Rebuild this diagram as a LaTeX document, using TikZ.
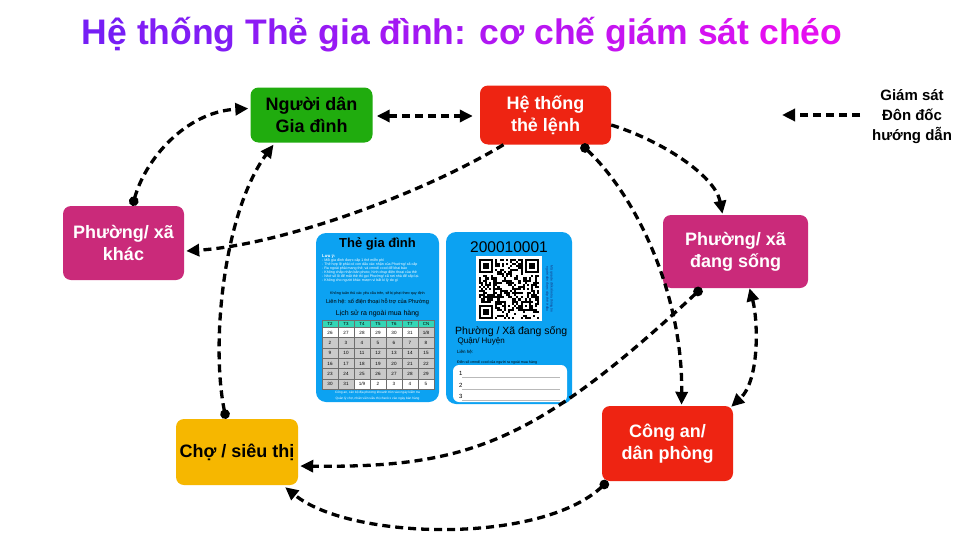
\documentclass[tikz,border=0pt]{standalone}
\usepackage{fontspec}
\setmainfont{Liberation Sans}
\usetikzlibrary{arrows.meta,calc}

% palette
\definecolor{titleA}{RGB}{118,30,245}
\definecolor{titleB}{RGB}{228,16,240}
\definecolor{boxgreen}{RGB}{32,172,14}
\definecolor{boxred}{RGB}{238,36,18}
\definecolor{boxmagenta}{RGB}{202,42,122}
\definecolor{boxyellow}{RGB}{246,183,0}
\definecolor{cardblue}{RGB}{12,162,242}
\definecolor{headteal}{RGB}{52,214,182}
\definecolor{cellgray}{RGB}{202,202,202}
\definecolor{gridgray}{RGB}{110,110,110}
\definecolor{rulegray}{RGB}{185,185,185}
\definecolor{qrnavy}{RGB}{24,44,120}

\newcommand\fsz[2]{\fontsize{#1}{#2}\selectfont}
\newcommand\tw[2]{\textcolor{titleB!#1!titleA}{#2}}

\tikzset{
  headtip/.tip={Triangle[length=13pt,width=12pt]},
  dottip/.tip={Circle[length=9.5pt]},
  role/.style={rectangle, rounded corners=8pt, align=center, inner sep=0pt,
    font=\bfseries\fsz{18}{22}},
  link/.style={line width=3.3pt, dash pattern=on 8pt off 5pt, draw=black},
  card/.style={rectangle, rounded corners=10pt, fill=cardblue, inner sep=0pt},
  cardtext/.style={inner sep=0pt, text=black},
  cell/.style={rectangle, draw=gridgray, line width=0.5pt, minimum width=16pt,
    minimum height=10.33pt, inner sep=0pt, font=\fsz{4.6}{5}},
  hcell/.style={cell, fill=headteal, minimum height=6.8pt, font=\fsz{4.4}{5}},
}

\begin{document}
\begin{tikzpicture}[x=1pt,y=-1pt]
\useasboundingbox (0,0) rectangle (979,551);
\fill[white] (0,0) rectangle (979,551);

% heading
\node[anchor=base, font=\bfseries\fsz{35.5}{40}, inner sep=0pt] (title) at (462,45)
  {\tw{0}{Hệ} \tw{10}{thống} \tw{21}{Thẻ} \tw{31}{gia} \tw{41}{đình:} \tw{53}{cơ} \tw{62}{chế} \tw{73}{giám} \tw{86}{sát} \tw{100}{chéo}};

% actors
\node[role, fill=boxgreen, text=black, minimum width=122pt, minimum height=55pt] (ppl) at (311.5,115) {Người dân\\Gia đình};
\node[role, fill=boxred, text=white, minimum width=131pt, minimum height=59pt] (sys) at (545.5,115) {Hệ thống\\thẻ lệnh};
\node[role, fill=boxmagenta, text=white, minimum width=121pt, minimum height=74pt] (other) at (123.5,243) {Phường/ xã\\khác};
\node[role, fill=boxmagenta, text=white, minimum width=145pt, minimum height=73pt] (home) at (735.5,251.5) {Phường/ xã\\đang sống};
\node[role, fill=boxred, text=white, minimum width=131pt, minimum height=75pt] (police) at (667.5,443.5) {Công an/\\dân phòng};
\node[role, fill=boxyellow, text=black, minimum width=122pt, minimum height=66pt] (market) at (237,452) {Chợ / siêu thị};

% legend
\node[font=\bfseries\fsz{15}{20}, align=center, inner sep=0pt] (legend) at (912,117) {Giám sát\\Đôn đốc\\hướng dẫn};
\coordinate (legstart) at (860,115);
\coordinate (legtip) at (782,115);
\draw[link,-headtip] (legstart) -- (legtip);

% ---------- family card, front ----------
\node[card, minimum width=123pt, minimum height=169pt] (card1) at (377.5,317.5) {};
\node[cardtext, font=\bfseries\fsz{13}{15}] (c1title) at (377.5,244) {Thẻ gia đình};
\node[cardtext, anchor=base west, text=white, font=\bfseries\fsz{4.2}{5}] (c1note) at (322,257) {Lưu ý:};
\node[cardtext, anchor=north west, text=white, align=left, font=\fsz{3.6}{3.95}] (c1rules) at (322,258.2)
  {- Mỗi gia đình được cấp 1 thẻ miễn phí\\
   - Thẻ hợp lệ phải có con dấu xác nhận của Phường/ xã cấp\\
   - Ra ngoài phải mang thẻ, và cmnd/ cccd để khai báo\\
   - Không chấp nhận bản photo, hình chụp điện thoại của thẻ\\
   - Nhớ số lô để mất thẻ thì gọi Phường/ xã nơi nhà để cấp lại.\\
   - Không cho người khác mượn vì bất kì lý do gì};
\node[cardtext, font=\fsz{3.7}{4}] (c1warn) at (377.5,293.7) {Không tuân thủ các yêu cầu trên, sẽ bị phạt theo quy định};
\node[cardtext, font=\fsz{5.6}{6}] (c1call) at (377.5,301.5) {Liên hệ: số điện thoại hỗ trợ của Phường};
\node[cardtext, font=\fsz{7}{8}] (c1hist) at (377.5,314) {Lịch sử ra ngoài mua hàng};

% calendar
\foreach \d [count=\c from 0] in {T2,T3,T4,T5,T6,T7,CN}
  \node[hcell] (hd\c) at (330+16*\c,323.9) {\d};
\foreach \r/\vals in {0/{26,27,28,29,30,31,{1/8}}, 1/{2,3,4,5,6,7,8},
    2/{9,10,11,12,13,14,15}, 3/{16,17,18,19,20,21,22},
    4/{23,24,25,26,27,28,29}, 5/{30,31,{1/9},2,3,4,5}}{
  \foreach \v [count=\c from 0] in \vals {
    \pgfmathtruncatemacro\isw{((\r==0)&&(\c<6))||((\r==5)&&(\c>1)) ? 1 : 0}
    \ifnum\isw=1 \def\cf{white}\else\def\cf{cellgray}\fi
    \node[cell, fill=\cf] (d\r-\c) at (330+16*\c,332.47+10.33*\r) {\v};
  }
}
\node[cardtext, text=white, align=center, font=\fsz{3.2}{5.3}] (c1foot) at (377.5,395.5)
  {Công an, cán bộ địa phương khoanh tròn vào ngày kiểm tra\\
   Quản lý chợ, nhân viên siêu thị check x vào ngày bán hàng};

% ---------- family card, back ----------
\node[card, minimum width=126pt, minimum height=172pt] (card2) at (509,318) {};
\node[cardtext, font=\fsz{15.5}{17}] (cardno) at (509,247) {200010001};
\node[rectangle, fill=white, minimum width=66pt, minimum height=65pt, inner sep=0pt] (qr) at (509,288.5) {};
\begin{scope}[shift={(478.5,258.5)}]
  \pgfmathsetseed{2020}
  \foreach \i in {0,...,28}{
    \foreach \j in {0,...,28}{
      \pgfmathrandominteger{\qb}{0}{1}
      \ifnum\qb=1 \fill (2.1*\i,2.1*\j) rectangle ++(2.1,2.1); \fi
    }
  }
  % finder and alignment marks
  \fill[white] (0,0) rectangle (16.8,16.8);
  \fill[white] (44.1,0) rectangle (60.9,16.8);
  \fill[white] (0,44.1) rectangle (16.8,60.9);
  \foreach \fx/\fy in {0/0,22/0,0/22}{
    \fill (2.1*\fx,2.1*\fy) rectangle ++(14.7,14.7);
    \fill[white] (2.1*\fx+2.1,2.1*\fy+2.1) rectangle ++(10.5,10.5);
    \fill (2.1*\fx+4.2,2.1*\fy+4.2) rectangle ++(6.3,6.3);
  }
  \fill (42,42) rectangle ++(10.5,10.5);
  \fill[white] (44.1,44.1) rectangle ++(6.3,6.3);
  \fill (46.2,46.2) rectangle ++(2.1,2.1);
\end{scope}
\node[cardtext, rotate=-90, text=qrnavy, align=center, font=\fsz{3.3}{4.2}] (qrnote) at (549.5,289)
  {Mã qrcode để kiểm tra thông tin\\người dân được cấp thẻ ở đâu};
\node[cardtext, anchor=base west, font=\fsz{10.5}{12}] (c2place) at (455,334) {Phường / Xã đang sống};
\node[cardtext, anchor=base west, font=\fsz{8}{9}] (c2dist) at (457.5,343.5) {Quận/ Huyện};
\node[cardtext, anchor=base west, font=\fsz{4.5}{5}] (c2call) at (457,353.5) {Liên hệ:};
\node[cardtext, anchor=base west, font=\fsz{3.6}{4}] (c2ask) at (457,363) {Điền số cmnd/ cccd của người ra ngoài mua hàng};
\node[rectangle, rounded corners=6pt, fill=white, minimum width=114pt, minimum height=37pt, inner sep=0pt] (c2box) at (510,383.5) {};
\foreach \k/\yy in {1/375,2/387.5,3/398}{
  \node[cardtext, anchor=base west, font=\fsz{6}{7}] (slot\k) at (459,\yy) {\k};
  \draw[rulegray, line width=0.5pt] (462,\yy+2) -- (560,\yy+2);
}

% ---------- supervision links ----------
\draw[link, headtip-headtip] ($(ppl.east)+(4,1)$) -- ($(sys.west)+(-7,1)$);
\draw[link, dottip-headtip] ($(other.north)+(9,0)$) .. controls (145,160) and (185,112) .. ($(ppl.west)+(-2,-6.5)$);
\draw[link, -headtip] ($(sys.south)+(-42,0)$) .. controls (420,195) and (280,245) .. ($(other.east)+(2,8)$);
\draw[link, -headtip] ($(sys.east)+(0,10)$) .. controls (660,140) and (715,175) .. ($(home.north)+(-13,-1)$);
\draw[link, dottip-headtip] ($(sys.south)+(36,0)$) .. controls (640,200) and (683,300) .. ($(police.north)+(14,-1)$);
\draw[link, dottip-headtip] ($(home.south)+(-34,0)$) .. controls (535,443) and (467,468) .. ($(market.east)+(2,14)$);
\draw[link, headtip-headtip] ($(home.south)+(14,0)$) .. controls (758,320) and (760,380) .. ($(police.north east)+(-2,1)$);
\draw[link, dottip-headtip] ($(police.south west)+(6,0)$) .. controls (540,545) and (350,540) .. ($(market.south east)+(-13,2)$);
\draw[link, dottip-headtip] ($(market.north)+(-11,0)$) .. controls (210,340) and (225,210) .. ($(ppl.south)+(-38,2)$);
\end{tikzpicture}
\end{document}
